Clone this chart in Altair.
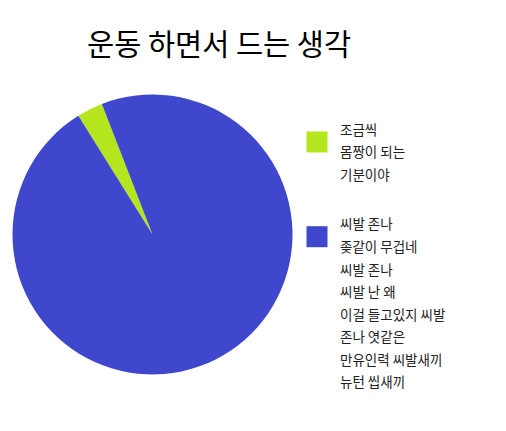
import math
import altair as alt
import pandas as pd

TITLE = "운동 하면서 드는 생각"
categories = ["조금씩 몸짱이 되는 기분이야", "존나 무겁네"]
values = [3, 97]
colors = ["#B5E61D", "#3F48CC"]
legend_lines = [
    ["조금씩", "몸짱이 되는", "기분이야"],
    ["씨발 존나", "좆같이 무겁네", "씨발 존나", "씨발 난 왜",
     "이걸 들고있지 씨발", "존나 엿같은", "만유인력 씨발새끼", "뉴턴 씹새끼"],
]
GROUP_GAP = 1.2
START_DEG = -32

FONT = "Noto Sans CJK KR"

pie_df = pd.DataFrame({"cat": categories, "value": values, "order": list(range(len(categories)))})

rows = []
sq_rows = []
idx = 0.0
for gi, (cat, lines) in enumerate(zip(categories, legend_lines)):
    if gi > 0:
        idx += GROUP_GAP
    sq_rows.append({"cat": cat, "idx": idx + 0.5})
    for ln in lines:
        rows.append({"cat": cat, "idx": idx, "text": ln})
        idx += 1
last_idx = idx - 1
text_df = pd.DataFrame(rows)
sq_df = pd.DataFrame(sq_rows)

color_scale = alt.Scale(domain=categories, range=colors)
start = math.radians(START_DEG)
yscale = alt.Scale(domain=[0, last_idx], range=[42.7, 295.3])

pie = alt.Chart(pie_df).mark_arc(radius=140, stroke=None).encode(
    theta=alt.Theta("value:Q", stack=True, scale=alt.Scale(range=[start, start + 2 * math.pi])),
    color=alt.Color("cat:N", scale=color_scale, legend=None),
    order=alt.Order("order:Q"),
    x=alt.value(144.5),
    y=alt.value(146.5),
)

squares = alt.Chart(sq_df).mark_square(size=441, opacity=1).encode(
    x=alt.value(309),
    y=alt.Y("idx:Q", scale=yscale, axis=None),
    color=alt.Color("cat:N", scale=color_scale, legend=None),
)

texts = alt.Chart(text_df).mark_text(
    align="left", baseline="middle", font=FONT, fontSize=13.5, color="#222222"
).encode(
    x=alt.value(332),
    y=alt.Y("idx:Q", scale=yscale, axis=None),
    text="text:N",
)

chart = alt.layer(pie, squares, texts).properties(
    width=490,
    height=330,
    autosize=alt.AutoSizeParams(type="none"),
    padding={"left": 0, "top": 80, "right": 0, "bottom": 0},
    title=alt.TitleParams(
        text=TITLE, font=FONT, fontSize=29.5, fontWeight="normal", color="black",
        anchor="start", dx=79, offset=4, baseline="alphabetic", frame="group",
    ),
).configure(background="white").configure_view(stroke=None, strokeWidth=0)

chart.save("out.html", embed_options={"renderer": "svg", "actions": False})
